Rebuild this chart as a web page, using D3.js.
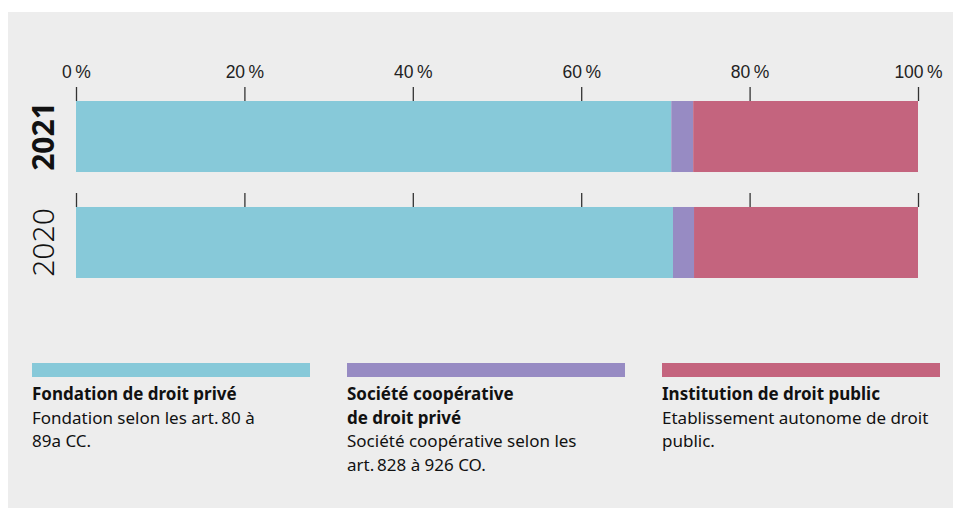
<!DOCTYPE html>
<html>
<head>
<meta charset="utf-8">
<script src="https://cdn.jsdelivr.net/npm/d3@7"></script>
<style>
  body { margin: 0; background: #fff; }
  svg { display: block; font-family: "Noto Sans", "Open Sans", sans-serif; }
</style>
</head>
<body>
<div id="chart"></div>
<script>
// Years (top to bottom) and shares in percent
var years = ['2021', '2020'];
var fondation = [70.7, 70.9];
var cooperative = [2.6, 2.5];
var institution = [26.7, 26.6];

var tickValues = [0, 20, 40, 60, 80, 100];

var seriesNames = ['Fondation de droit privé', 'Société coopérative de droit privé', 'Institution de droit public'];
var legendTitles = [['Fondation de droit privé'], ['Société coopérative', 'de droit privé'], ['Institution de droit public']];
var legendNotes = [
    ['Fondation selon les art.\u200980 à', '89a CC.'],
    ['Société coopérative selon les', 'art.\u2009828 à 926 CO.'],
    ['Etablissement autonome de droit', 'public.']
];
var colors = ['#87c9d9', '#978bc3', '#c4647e'];

var width = 953, height = 508;

var svg = d3.select('#chart').append('svg')
    .attr('width', width)
    .attr('height', height);

// Grey panel
svg.append('rect')
    .attr('x', 8).attr('y', 12)
    .attr('width', width - 8).attr('height', height - 12)
    .attr('fill', '#ededed');

// Scales
var x = d3.scaleLinear().domain([0, 100]).range([76, 918]);
var y = d3.scaleBand().domain(years).range([101, 278]).paddingInner(0.33).paddingOuter(0);
var bandH = y.bandwidth();

// Stack the data
var rows = years.map(function(yr, i) {
    return { year: yr, s0: fondation[i], s1: cooperative[i], s2: institution[i] };
});
var stack = d3.stack().keys(['s0', 's1', 's2']);
var stacked = stack(rows);

// Axis above each bar
years.forEach(function(yr, i) {
    var axis = d3.axisTop(x)
        .tickValues(tickValues)
        .tickSize(14)
        .tickPadding(9)
        .tickFormat(function(d) { return d + '\u2009%'; });
    var g = svg.append('g')
        .attr('class', 'axis')
        .attr('transform', 'translate(0,' + y(yr) + ')')
        .call(axis);
    g.select('.domain').remove();
    g.selectAll('.tick line').attr('stroke', '#333').attr('stroke-width', 1.3);
    g.selectAll('.tick text')
        .attr('fill', '#222')
        .style('font-size', '17.5px');
    if (i > 0) g.selectAll('.tick text').remove();
});

// Bars
svg.append('g').selectAll('g')
    .data(stacked)
    .join('g')
    .attr('fill', function(d, i) { return colors[i]; })
    .selectAll('rect')
    .data(function(d) { return d; })
    .join('rect')
    .attr('x', function(d) { return x(d[0]); })
    .attr('y', function(d) { return y(d.data.year); })
    .attr('width', function(d) { return x(d[1]) - x(d[0]); })
    .attr('height', bandH);

// Year labels (rotated)
svg.append('g').selectAll('text')
    .data(years)
    .join('text')
    .attr('transform', function(d) {
        return 'translate(54,' + (y(d) + bandH / 2) + ') rotate(-90)';
    })
    .attr('text-anchor', 'middle')
    .attr('fill', '#111')
    .style('font-size', '30px')
    .style('font-weight', function(d, i) { return i === 0 ? 'bold' : '300'; })
    .text(function(d) { return d; });

// Legend
var legendX = [32, 347, 662];
var legendW = 278;
var legend = svg.append('g').selectAll('g')
    .data(seriesNames)
    .join('g')
    .attr('transform', function(d, i) { return 'translate(' + legendX[i] + ',363)'; });

legend.append('rect')
    .attr('width', legendW)
    .attr('height', 14)
    .attr('fill', function(d, i) { return colors[i]; });

legend.each(function(d, i) {
    var g = d3.select(this);
    var lines = legendTitles[i].map(function(t) { return { t: t, bold: true }; })
        .concat(legendNotes[i].map(function(t) { return { t: t, bold: false }; }));
    g.selectAll('text')
        .data(lines)
        .join('text')
        .attr('x', 0)
        .attr('y', function(l, j) { return 37 + j * 23.5; })
        .attr('fill', '#111')
        .style('font-size', '17px')
        .style('font-weight', function(l) { return l.bold ? 'bold' : 'normal'; })
        .text(function(l) { return l.t; });
});
</script>
</body>
</html>
